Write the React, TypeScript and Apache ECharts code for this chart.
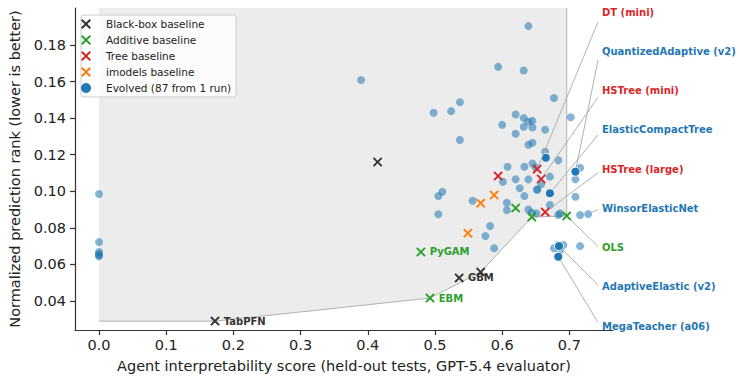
import React, { useEffect, useRef } from 'react';
import * as echarts from 'echarts';

const FONT = "'DejaVu Sans', sans-serif";
const BLACK = '#333333';
const GREEN = '#2ca02c';
const RED = '#d62728';
const ORANGE = '#ff7f0e';
const BLUE = '#1f77b4';

const X_MIN = -0.0357;
const X_MAX = 0.7649;
const Y_MIN = 0.02414;
const Y_MAX = 0.2002;

const xTicks = [0, 0.1, 0.2, 0.3, 0.4, 0.5, 0.6, 0.7];
const yTicks = [0.04, 0.06, 0.08, 0.1, 0.12, 0.14, 0.16, 0.18];

const seriesNames = [
  'Black-box baseline',
  'Additive baseline',
  'Tree baseline',
  'imodels baseline',
  'Evolved (87 from 1 run)',
];

const blackBoxX = [0.1726, 0.4146, 0.536, 0.568];
const blackBoxY = [0.029, 0.116, 0.0526, 0.0558];
const blackBoxLabels = ['TabPFN', '', 'GBM', ''];

const additiveX = [0.479, 0.4926, 0.62, 0.644, 0.696];
const additiveY = [0.0668, 0.0416, 0.0908, 0.0859, 0.0865];
const additiveLabels = ['PyGAM', 'EBM', '', '', ''];

const treeX = [0.594, 0.652, 0.658, 0.664];
const treeY = [0.1083, 0.1121, 0.1067, 0.0886];

const imodelsX = [0.549, 0.568, 0.588];
const imodelsY = [0.0771, 0.0935, 0.0979];

const evolvedX = [
  0, 0, 0, 0, 0, 0,
  0.39, 0.639, 0.594, 0.632, 0.677, 0.702,
  0.498, 0.524, 0.537, 0.62, 0.632, 0.639, 0.645, 0.6, 0.632, 0.645, 0.664, 0.62,
  0.537, 0.639, 0.645, 0.664, 0.6835, 0.608, 0.633, 0.645, 0.671, 0.601,
  0.62, 0.639, 0.658, 0.626, 0.652, 0.652, 0.716, 0.709, 0.633, 0.671,
  0.709, 0.607, 0.607, 0.639, 0.644, 0.651, 0.6835, 0.716, 0.728, 0.582,
  0.575, 0.588, 0.677, 0.6835, 0.691, 0.686, 0.716, 0.505, 0.511, 0.505,
  0.556, 0.65, 0.686,
];
const evolvedY = [
  0.0985, 0.0722, 0.0668, 0.0657, 0.065, 0.0645,
  0.1608, 0.1903, 0.168, 0.166, 0.151, 0.1405,
  0.1429, 0.1438, 0.1487, 0.142, 0.14, 0.138, 0.1385, 0.1363, 0.1352, 0.1349, 0.1336, 0.1314,
  0.128, 0.1254, 0.1265, 0.1216, 0.1169, 0.1134, 0.1134, 0.1152, 0.108, 0.1052,
  0.1065, 0.1065, 0.1038, 0.1016, 0.101, 0.1008, 0.1128, 0.1065, 0.0974, 0.0925,
  0.097, 0.0937, 0.0897, 0.09, 0.0883, 0.0879, 0.087, 0.087, 0.0875, 0.081,
  0.0755, 0.0688, 0.0688, 0.0706, 0.0706, 0.0679, 0.07, 0.0974, 0.0997, 0.0874,
  0.0948, 0.113, 0.0879,
];

const highlightX = [0.665, 0.709, 0.671, 0.6845, 0.6835];
const highlightY = [0.1183, 0.1107, 0.0989, 0.07, 0.0642];

const frontierX = [0, 0.1726, 0.4926, 0.568, 0.644, 0.696, 0.696];
const frontierY = [0.029, 0.029, 0.0416, 0.0558, 0.0859, 0.0865, Y_MAX];

const calloutNames = [
  'DT (mini)',
  'QuantizedAdaptive (v2)',
  'HSTree (mini)',
  'ElasticCompactTree',
  'HSTree (large)',
  'WinsorElasticNet',
  'OLS',
  'AdaptiveElastic (v2)',
  'MegaTeacher (a06)',
];
const calloutX = [0.652, 0.709, 0.658, 0.671, 0.664, 0.728, 0.696, 0.6845, 0.6835];
const calloutY = [0.1121, 0.1107, 0.1067, 0.0989, 0.0886, 0.0875, 0.0865, 0.07, 0.0642];
const calloutColors = [RED, BLUE, RED, BLUE, RED, BLUE, GREEN, BLUE, BLUE];

const X_SYMBOL =
  'path://M0,1.4L1.4,0L5,3.6L8.6,0L10,1.4L6.4,5L10,8.6L8.6,10L5,6.4L1.4,10L0,8.6L3.6,5Z';

const pairs = (xs: number[], ys: number[]) => xs.map((x, i) => [x, ys[i]]);

function baselineSeries(name: string, color: string, xs: number[], ys: number[], labels?: string[]) {
  return {
    type: 'scatter',
    name,
    data: pairs(xs, ys),
    symbol: X_SYMBOL,
    symbolSize: 9.5,
    itemStyle: { color, opacity: 1 },
    z: 6,
    label: labels
      ? {
          show: true,
          position: 'right',
          distance: 4,
          formatter: (p: any) => labels[p.dataIndex] || '',
          color,
          fontSize: 10,
          fontWeight: 'bold',
          fontFamily: FONT,
        }
      : { show: false },
  };
}

export default function App() {
  const ref = useRef<HTMLDivElement>(null);

  useEffect(() => {
    document.body.style.margin = '0';
    if (!ref.current) return;
    const chart = echarts.init(ref.current, undefined, { renderer: 'svg' });

    const option: any = {
      animation: false,
      backgroundColor: '#ffffff',
      textStyle: { fontFamily: FONT },
      grid: { left: 75, top: 8, right: 127, bottom: 51, containLabel: false, outerBoundsMode: 'none' },
      legend: {
        orient: 'vertical',
        left: 81,
        top: 15,
        padding: [3, 5, 3, 0],
        itemWidth: 30,
        itemHeight: 10,
        itemGap: 4,
        backgroundColor: 'rgba(255,255,255,0.85)',
        borderColor: '#cccccc',
        borderWidth: 1,
        borderRadius: 3,
        textStyle: { fontSize: 10.5, color: '#222222', fontFamily: FONT, lineHeight: 12 },
        data: seriesNames.map((n) => ({ name: n, itemStyle: { opacity: 1 } })),
        selectedMode: false,
      },
      xAxis: {
        type: 'value',
        min: X_MIN,
        max: X_MAX,
        name: 'Agent interpretability score (held-out tests, GPT-5.4 evaluator)',
        nameLocation: 'middle',
        nameGap: 28,
        nameTextStyle: { fontSize: 14.5, color: '#222222', fontFamily: FONT },
        splitLine: { show: false },
        axisLine: { show: true, onZero: false, lineStyle: { color: '#333333', width: 1.2 } },
        axisTick: { show: true, length: 5, customValues: xTicks, lineStyle: { color: '#333333', width: 1.2 } },
        axisLabel: {
          customValues: xTicks,
          formatter: (v: number) => v.toFixed(1),
          fontSize: 14.5,
          color: '#222222',
          margin: 7,
          fontFamily: FONT,
        },
      },
      yAxis: {
        type: 'value',
        min: Y_MIN,
        max: Y_MAX,
        name: 'Normalized prediction rank (lower is better)',
        nameLocation: 'middle',
        nameGap: 50,
        nameTextStyle: { fontSize: 14.5, color: '#222222', fontFamily: FONT },
        splitLine: { show: false },
        axisLine: { show: true, onZero: false, lineStyle: { color: '#333333', width: 1.2 } },
        axisTick: { show: true, length: 5, customValues: yTicks, lineStyle: { color: '#333333', width: 1.2 } },
        axisLabel: {
          customValues: yTicks,
          formatter: (v: number) => v.toFixed(2),
          fontSize: 14.5,
          color: '#222222',
          margin: 9,
          fontFamily: FONT,
        },
      },
      series: [
        {
          type: 'line',
          name: 'frontier',
          data: pairs(frontierX, frontierY),
          symbol: 'none',
          silent: true,
          z: 1,
          lineStyle: { color: '#b0b0b0', width: 1 },
          areaStyle: { origin: 'end', color: '#ececec', opacity: 1 },
        },
        {
          type: 'scatter',
          name: seriesNames[4],
          data: pairs(evolvedX, evolvedY),
          symbol: 'circle',
          symbolSize: 8,
          itemStyle: { color: BLUE, opacity: 0.55 },
          z: 2,
        },
        {
          type: 'scatter',
          name: 'highlighted',
          data: pairs(highlightX, highlightY),
          symbol: 'circle',
          symbolSize: 9,
          itemStyle: { color: BLUE, opacity: 1, borderColor: '#ffffff', borderWidth: 1 },
          z: 3,
        },
        {
          type: 'custom',
          name: 'callouts',
          clip: false,
          z: 4,
          silent: true,
          data: pairs(calloutX, calloutY),
          encode: { x: 0, y: 1 },
          renderItem: (params: any, api: any) => {
            const i = params.dataIndex;
            const p = api.coord([api.value(0), api.value(1)]);
            const cs = params.coordSys;
            const tx = cs.x + cs.width - 11;
            const ty = cs.y + 4 + i * 39.25;
            const off = Math.max(-6, Math.min(10, (p[1] - ty) * 0.065 + 1));
            const ex = tx - 4;
            const ey = ty + off;
            const dx = ex - p[0];
            const dy = ey - p[1];
            const len = Math.hypot(dx, dy) || 1;
            const s = 4.5 / len;
            return {
              type: 'group',
              children: [
                {
                  type: 'line',
                  shape: { x1: p[0] + dx * s, y1: p[1] + dy * s, x2: ex, y2: ey },
                  style: { stroke: '#a8a8a8', lineWidth: 0.9 },
                },
                {
                  type: 'text',
                  x: tx,
                  y: ty,
                  style: {
                    text: calloutNames[i],
                    fill: calloutColors[i],
                    font: `bold 10px ${FONT}`,
                    align: 'left',
                    verticalAlign: 'middle',
                  },
                },
              ],
            };
          },
        },
        baselineSeries(seriesNames[0], BLACK, blackBoxX, blackBoxY, blackBoxLabels),
        baselineSeries(seriesNames[1], GREEN, additiveX, additiveY, additiveLabels),
        baselineSeries(seriesNames[2], RED, treeX, treeY),
        baselineSeries(seriesNames[3], ORANGE, imodelsX, imodelsY),
      ],
    };

    chart.setOption(option);
    return () => chart.dispose();
  }, []);

  return (
    <div
      ref={ref}
      style={{ position: 'absolute', left: 0, top: 0, width: 740, height: 381 }}
    />
  );
}
